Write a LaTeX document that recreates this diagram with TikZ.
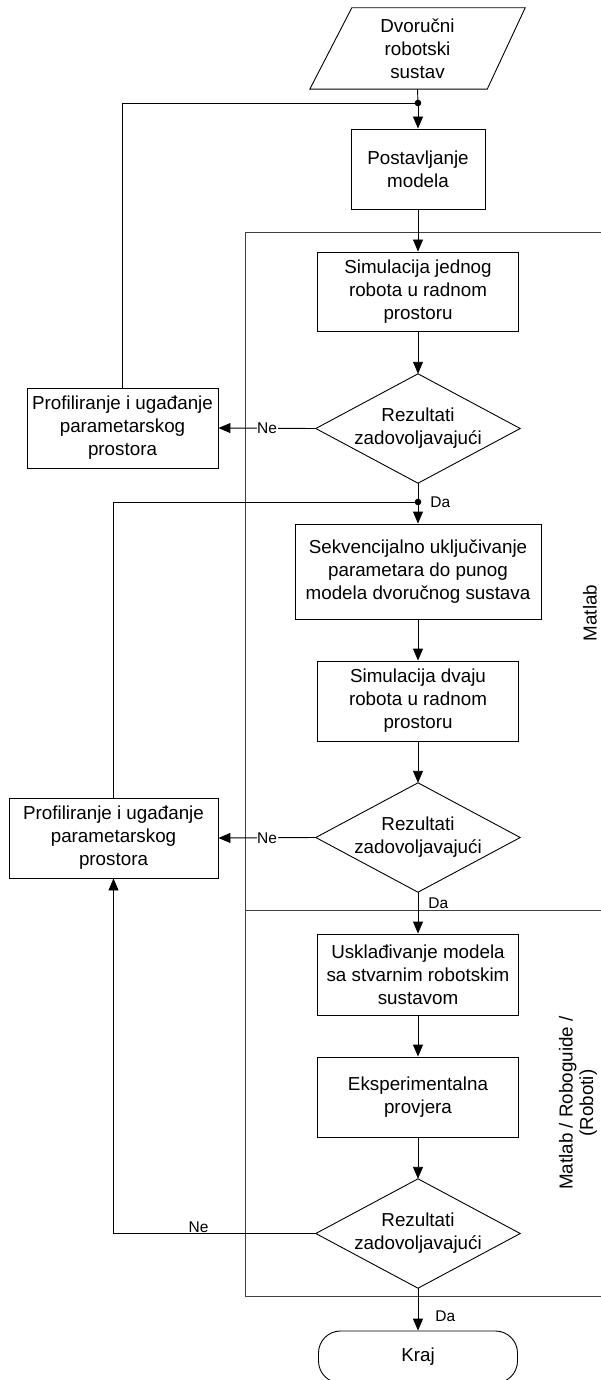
\documentclass[tikz,border=0pt]{standalone}
\usepackage{fontspec}
\setmainfont{Liberation Sans}
\usetikzlibrary{arrows.meta,calc}
\begin{document}
\begin{tikzpicture}[x=1pt,y=-1pt,
  box/.style={draw, line width=0.9pt, align=center, inner sep=0pt, font=\fontsize{18.8}{23}\selectfont},
  txt/.style={align=center, inner sep=0pt, font=\fontsize{18.8}{23}\selectfont},
  lbl/.style={inner sep=1pt, font=\fontsize{15.5}{18}\selectfont},
  conn/.style={line width=0.9pt},
  arr/.style={conn, -{Triangle[length=12pt,width=10pt]}},
  lane/.style={line width=1pt, black!75},
]
\useasboundingbox (0,0) rectangle (601,1380);

% lanes
\draw[lane] (602,233) -- (245,233) -- (245,1296) -- (602,1296);
\draw[lane] (245,910) -- (602,910);
\node[txt, rotate=90] (m1) at (590,613) {Matlab};
\node[txt, rotate=90, font=\fontsize{18.8}{20.5}\selectfont] (m2) at (578,1103) {Matlab / Roboguide /\\(Roboti)};

% nodes
\node[txt, minimum width=215pt, minimum height=81pt] (start) at (417.5,48.5) {Dvoručni\\robotski\\sustav};
\draw[conn] ($(start.north west)+(42,0)$) -- (start.north east) -- ($(start.south east)+(-38,0)$) -- (start.south west) -- cycle;
\coordinate (j1) at (418,103);
\node[box, minimum width=134pt, minimum height=80pt] (post) at (418,169) {Postavljanje\\modela};
\node[box, minimum width=201pt, minimum height=79pt] (sim1) at (418,291.5) {Simulacija jednog\\robota u radnom\\prostoru};
\node[txt, minimum width=204pt, minimum height=109pt] (d1) at (418,428.5) {Rezultati\\zadovoljavajući};
\draw[conn] (d1.north) -- (d1.east) -- (d1.south) -- (d1.west) -- cycle;
\node[box, minimum width=191pt, minimum height=80pt] (p1) at (122.5,428) {Profiliranje i ugađanje\\parametarskog\\prostora};
\coordinate (j2) at (418,502);
\node[box, minimum width=246pt, minimum height=95pt] (seq) at (418,571.5) {Sekvencijalno uključivanje\\parametara do punog\\modela dvoručnog sustava};
\node[box, minimum width=201pt, minimum height=80pt] (sim2) at (418,701) {Simulacija dvaju\\robota u radnom\\prostoru};
\node[txt, minimum width=204pt, minimum height=109pt] (d2) at (418,837.5) {Rezultati\\zadovoljavajući};
\draw[conn] (d2.north) -- (d2.east) -- (d2.south) -- (d2.west) -- cycle;
\node[box, minimum width=209pt, minimum height=80pt] (p2) at (113.5,838) {Profiliranje i ugađanje\\parametarskog\\prostora};
\node[box, minimum width=201pt, minimum height=81pt] (usk) at (418,974.5) {Usklađivanje modela\\sa stvarnim robotskim\\sustavom};
\node[box, minimum width=201pt, minimum height=80pt] (eksp) at (418,1097) {Eksperimentalna\\provjera};
\node[txt, minimum width=204pt, minimum height=109pt] (d3) at (418,1233.5) {Rezultati\\zadovoljavajući};
\draw[conn] (d3.north) -- (d3.east) -- (d3.south) -- (d3.west) -- cycle;
\node[box, rounded corners=22pt, minimum width=199pt, minimum height=52pt] (kraj) at (418,1357) {Kraj};

% connectors
\draw[conn] (start.south) -- (j1);
\draw[arr] (j1) -- (post.north);
\draw[arr] (post) -- (sim1);
\draw[arr] (sim1) -- (d1.north);
\draw[arr] (d1.west) -- node[lbl, fill=white, inner sep=0.5pt] {Ne} (p1.east);
\draw[conn] (p1.north) |- (j1);
\fill (j1) circle (3.3pt);
\draw[conn] (d1.south) -- (j2);
\draw[arr] (j2) -- node[lbl, pos=0, right, xshift=11pt] {Da} (seq.north);
\draw[conn] (p2.north) |- (j2);
\fill (j2) circle (3.3pt);
\draw[arr] (seq) -- (sim2);
\draw[arr] (sim2) -- (d2.north);
\draw[arr] (d2.west) -- node[lbl, fill=white, inner sep=0.5pt] {Ne} (p2.east);
\draw[arr] (d2.south) -- node[lbl, pos=0.27, right, xshift=9pt] {Da} (usk.north);
\draw[arr] (usk) -- (eksp);
\draw[arr] (eksp) -- (d3.north);
\draw[arr] (d3.west) -| node[lbl, pos=0.29, above, inner sep=0.5pt] {Ne} (p2.south);
\draw[arr] (d3.south) -- node[lbl, pos=0.65, right, xshift=16pt] {Da} (kraj.north);
\end{tikzpicture}
\end{document}
